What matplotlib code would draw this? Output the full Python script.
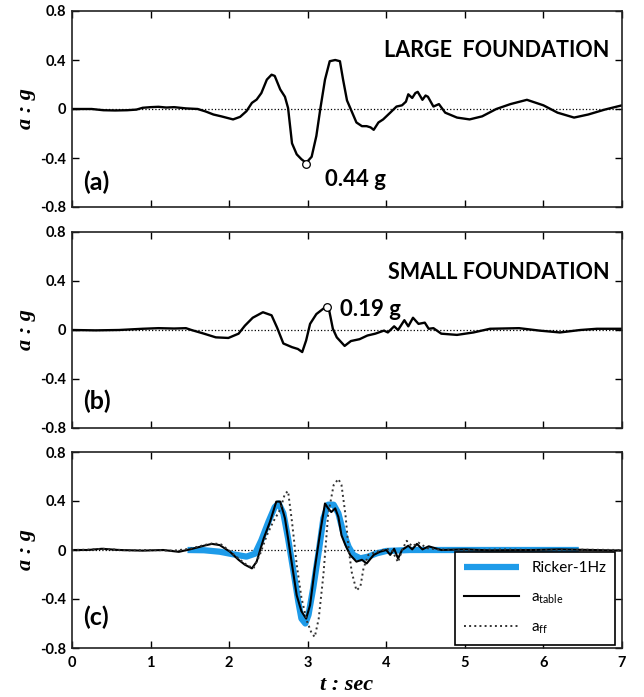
import numpy as np
import matplotlib
matplotlib.use('Agg')
import matplotlib.pyplot as plt

# Data
# (a) large foundation
t_large = [0, 0.25, 0.4, 0.55, 0.7, 0.82, 0.9, 1.0, 1.1, 1.2, 1.3, 1.45, 1.6,
           1.7, 1.8, 1.9, 2.05, 2.14, 2.22, 2.29, 2.35, 2.41, 2.48, 2.54,
           2.58, 2.65, 2.71, 2.75, 2.8, 2.86, 2.92, 2.98, 3.05, 3.11, 3.16,
           3.22, 3.28, 3.35, 3.41, 3.45, 3.5, 3.56, 3.62, 3.69, 3.75, 3.8,
           3.84, 3.9, 3.96, 4.05, 4.13, 4.2, 4.25, 4.28, 4.33, 4.37, 4.4,
           4.46, 4.5, 4.53, 4.6, 4.67, 4.75, 4.9, 5.06, 5.22, 5.4, 5.58,
           5.79, 6.0, 6.18, 6.39, 6.57, 6.78, 7.0]
a_large = [0, 0, -0.01, -0.012, -0.01, -0.005, 0.01, 0.015, 0.018, 0.012,
           0.015, 0.005, 0.0, -0.02, -0.045, -0.06, -0.085, -0.064, -0.018,
           0.05, 0.077, 0.13, 0.24, 0.28, 0.27, 0.16, 0.10, 0.008, -0.28,
           -0.37, -0.41, -0.44, -0.39, -0.22, 0.0, 0.24, 0.39, 0.40, 0.39,
           0.24, 0.07, -0.02, -0.11, -0.14, -0.14, -0.15, -0.17, -0.11,
           -0.085, -0.03, 0.02, 0.03, 0.06, 0.12, 0.09, 0.13, 0.14, 0.075,
           0.11, 0.1, 0.02, 0.04, -0.03, -0.07, -0.085, -0.06, 0.0, 0.04,
           0.075, 0.03, -0.03, -0.07, -0.045, -0.005, 0.03]

# (b) small foundation
t_small = [0, 0.3, 0.6, 0.9, 1.1, 1.3, 1.45, 1.52, 1.68, 1.83, 1.99, 2.12,
           2.2, 2.3, 2.43, 2.54, 2.61, 2.69, 2.8, 2.875, 2.93, 2.98, 3.03,
           3.11, 3.21, 3.27, 3.32, 3.37, 3.47, 3.55, 3.66, 3.76, 3.86, 3.97,
           4.02, 4.1, 4.15, 4.23, 4.28, 4.34, 4.41, 4.49, 4.54, 4.6, 4.7,
           4.9, 5.11, 5.32, 5.69, 5.95, 6.21, 6.47, 6.68, 7.0]
a_small = [0, -0.003, 0.0, 0.01, 0.015, 0.012, 0.015, 0.0, -0.03, -0.06,
           -0.065, -0.03, 0.035, 0.1, 0.145, 0.12, 0.02, -0.11, -0.14,
           -0.155, -0.18, -0.085, 0.05, 0.13, 0.18, 0.17, 0.01, -0.06, -0.13,
           -0.09, -0.075, -0.045, -0.03, -0.005, -0.02, 0.03, 0.0, 0.08, 0.03,
           0.1, 0.05, 0.06, 0.01, 0.015, -0.03, -0.04, -0.02, 0.01, 0.015,
           -0.005, -0.02, 0.0, 0.01, 0.01]

# (c) input motions
t_ricker = [1.47, 1.68, 1.88, 2.05, 2.22, 2.33, 2.41, 2.5, 2.58, 2.63, 2.69,
            2.75, 2.82, 2.88, 2.92, 2.97, 3.01, 3.07, 3.14, 3.2, 3.26, 3.33,
            3.39, 3.45, 3.52, 3.58, 3.67, 3.77, 3.88, 4.0, 4.3, 5.0, 6.45]
a_ricker = [0, -0.002, -0.014, -0.035, -0.054, -0.03, 0.08, 0.23, 0.35,
            0.38, 0.30, 0.095, -0.18, -0.42, -0.56, -0.6, -0.53, -0.31,
            -0.014, 0.26, 0.37, 0.37, 0.30, 0.15, 0.027, -0.04, -0.068,
            -0.054, -0.027, -0.008, 0, 0, 0]

t_table = [0, 0.2, 0.38, 0.6, 0.9, 1.16, 1.36, 1.52, 1.68, 1.78, 1.88, 2.01,
           2.12, 2.2, 2.29, 2.35, 2.44, 2.52, 2.6, 2.65, 2.71, 2.75, 2.8,
           2.86, 2.92, 2.98, 3.03, 3.09, 3.16, 3.22, 3.26, 3.3, 3.35, 3.39,
           3.43, 3.48, 3.54, 3.62, 3.69, 3.75, 3.84, 3.92, 4.0, 4.05, 4.1,
           4.15, 4.2, 4.28, 4.33, 4.39, 4.46, 4.54, 4.7, 5.0, 5.32, 5.84,
           6.2, 6.63, 7.0]
a_table = [0, 0.0, 0.01, 0.0, -0.005, 0.0, -0.015, 0.008, 0.035, 0.05, 0.04,
           -0.014, -0.08, -0.12, -0.15, -0.095, 0.095, 0.23, 0.395, 0.395,
           0.26, 0.095, -0.12, -0.37, -0.5, -0.56, -0.45, -0.15, 0.15, 0.38,
           0.34, 0.31, 0.34, 0.27, 0.12, 0.04, -0.04, -0.095, -0.08, -0.11,
           -0.04, -0.014, 0.0, -0.04, 0.01, -0.07, 0.0, 0.035, 0.005, 0.05,
           0.005, 0.03, 0.0, 0.005, -0.003, 0.0, 0.005, 0.0, -0.005]

t_ff = [0, 0.2, 0.4, 0.7, 1.0, 1.3, 1.5, 1.68, 1.8, 1.9, 2.01, 2.12, 2.22,
        2.31, 2.39, 2.48, 2.56, 2.65, 2.71, 2.75, 2.8, 2.86, 2.92, 2.99,
        3.05, 3.09, 3.14, 3.2, 3.26, 3.33, 3.39, 3.43, 3.48, 3.52, 3.56,
        3.62, 3.67, 3.71, 3.77, 3.88, 4.0, 4.07, 4.15, 4.2, 4.26, 4.33,
        4.41, 4.52, 4.65, 5.0, 5.5, 6.0, 6.5, 7.0]
a_ff = [0, 0.003, 0.01, -0.003, 0.0, -0.005, 0.01, 0.04, 0.055, 0.045,
        -0.01, -0.07, -0.12, -0.15, -0.04, 0.12, 0.23, 0.33, 0.46, 0.48,
        0.23, -0.12, -0.39, -0.58, -0.68, -0.71, -0.56, -0.2, 0.29, 0.53,
        0.58, 0.53, 0.29, 0.014, -0.18, -0.33, -0.3, -0.15, -0.04, -0.014,
        0.008, 0.0, -0.1, 0.0, 0.075, 0.03, 0.06, 0.015, 0.005, 0.0, 0.005,
        0.0, 0.003, 0.0]

peak_large = (2.98, -0.45)
peak_small = (3.24, 0.19)

# %% Plot
plt.rc('font', family='Lato', size=11)
plt.rc('xtick', labelsize=10.5, direction='in', top=True)
plt.rc('ytick', labelsize=10.5, direction='in', right=True)
plt.rc('axes', linewidth=1.2, edgecolor='#222222')

fig = plt.figure(figsize=[6.44, 6.97], dpi=100)
left, width, height = 72 / 644, 550 / 644, 196 / 697
tops = [11, 232, 452]
axes = [fig.add_axes([left, 1 - (tp + 196) / 697, width, height])
        for tp in tops]

label_font = dict(family='Liberation Serif', style='italic',
                  weight='bold', size=16)

for ax in axes:
    ax.axhline(0, color='black', linestyle=':', linewidth=0.9)
    ax.set_xlim(0, 7)
    ax.set_ylim(-0.8, 0.8)
    ax.set_xticks(np.arange(0, 8, 1))
    ax.set_yticks([-0.8, -0.4, 0, 0.4, 0.8])
    ax.set_yticklabels(['-0.8', '-0.4', '0', '0.4', '0.8'])
    ax.tick_params(length=5, width=1, pad=4)
    for lab in ax.get_xticklabels() + ax.get_yticklabels():
        lab.set_fontweight('bold')
    ax.set_ylabel('a : g', fontdict=label_font)
    ax.yaxis.set_label_coords(-0.066, 0.5)

ax1, ax2, ax3 = axes
ax1.tick_params(labelbottom=False)
ax2.tick_params(labelbottom=False)

# (a)
ax1.plot(t_large, a_large, color='black', linewidth=1.7)
ax1.plot(*peak_large, marker='o', markersize=5.5, markerfacecolor='white',
         markeredgecolor='black', markeredgewidth=0.9)
ax1.text(6.84, 0.48, 'LARGE  FOUNDATION', ha='right', va='center',
         fontsize=15.5, fontweight='bold')
ax1.text(3.22, -0.575, '0.44 g', ha='left', va='center', fontsize=16,
         fontweight='bold')
ax1.text(0.14, -0.6, '(a)', ha='left', va='center', fontsize=18,
         fontweight='bold')

# (b)
ax2.plot(t_small, a_small, color='black', linewidth=1.7)
ax2.plot(*peak_small, marker='o', markersize=5.5, markerfacecolor='white',
         markeredgecolor='black', markeredgewidth=0.9)
ax2.text(6.84, 0.47, 'SMALL FOUNDATION', ha='right', va='center',
         fontsize=15.5, fontweight='bold')
ax2.text(3.41, 0.17, '0.19 g', ha='left', va='center', fontsize=16,
         fontweight='bold')
ax2.text(0.14, -0.58, '(b)', ha='left', va='center', fontsize=18,
         fontweight='bold')

# (c)
ax3.plot(t_ricker, a_ricker, color='#1E9BE9', linewidth=4.5,
         label='Ricker-1Hz', solid_capstyle='butt')
ax3.plot(t_table, a_table, color='black', linewidth=1.5,
         label=r'a$_\mathregular{table}$')
ax3.plot(t_ff, a_ff, color='#333333', linewidth=1.4, linestyle=':',
         label=r'a$_\mathregular{ff}$')
ax3.text(0.14, -0.55, '(c)', ha='left', va='center', fontsize=18,
         fontweight='bold')
ax3.set_xlabel('t : sec', fontdict=label_font)
ax3.xaxis.set_label_coords(0.5, -0.14)
ax3.tick_params(axis='x', pad=6)
leg = ax3.legend(loc='lower right', bbox_to_anchor=(0.988, 0.015),
                 fancybox=False, framealpha=1, edgecolor='black',
                 fontsize=11, handlelength=3.6, labelspacing=0.95,
                 borderpad=0.6, borderaxespad=0)
leg.get_frame().set_linewidth(1.2)

plt.savefig('out.png', dpi=100)
